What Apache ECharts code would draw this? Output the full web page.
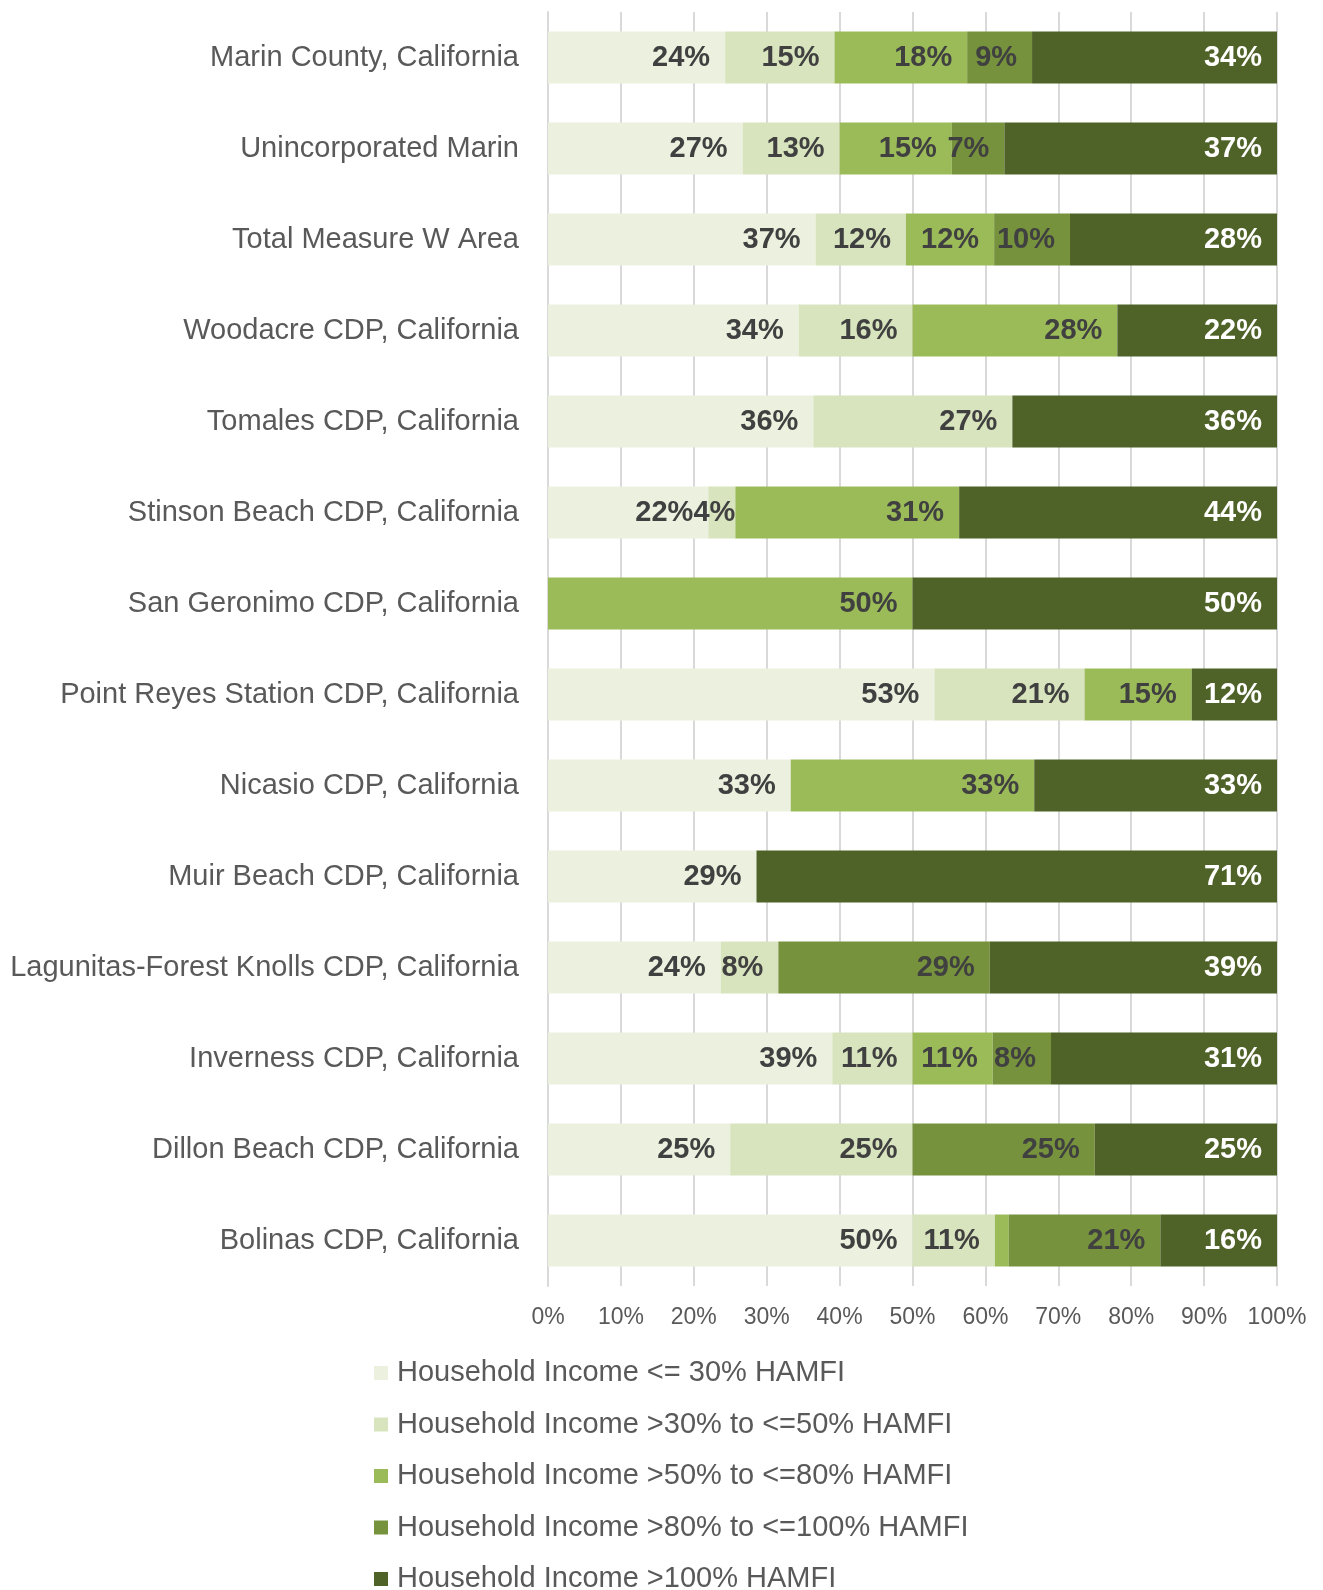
<!DOCTYPE html>
<html>
<head>
<meta charset="utf-8">
<script src="https://cdn.jsdelivr.net/npm/echarts@6/dist/echarts.min.js"></script>
<style>
  html, body { margin: 0; padding: 0; background: #fff; }
  #main { width: 1323px; height: 1590px; }
</style>
</head>
<body>
<div id="main"></div>
<script>
// places, top to bottom
var places = [
    'Marin County, California',
    'Unincorporated Marin',
    'Total Measure W Area',
    'Woodacre CDP, California',
    'Tomales CDP, California',
    'Stinson Beach CDP, California',
    'San Geronimo CDP, California',
    'Point Reyes Station CDP, California',
    'Nicasio CDP, California',
    'Muir Beach CDP, California',
    'Lagunitas-Forest Knolls CDP, California',
    'Inverness CDP, California',
    'Dillon Beach CDP, California',
    'Bolinas CDP, California'
];

var seriesNames = [
    'Household Income <= 30% HAMFI',
    'Household Income >30% to <=50% HAMFI',
    'Household Income >50% to <=80% HAMFI',
    'Household Income >80% to <=100% HAMFI',
    'Household Income >100% HAMFI'
];

// shares in percent, same order as places
var upTo30 =     [24.3, 26.7, 36.7, 34.4, 36.4, 22.0, 0,  53.0, 33.3, 28.6, 23.7, 39.0, 25, 50.0];
var from30to50 = [15.0, 13.3, 12.4, 15.6, 27.3, 3.7,  0,  20.6, 0,    0,    7.9,  11.0, 25, 11.3];
var from50to80 = [18.2, 15.4, 12.1, 28.1, 0,    30.7, 50, 14.7, 33.4, 0,    0,    11.0, 0,  1.9];
var from80to100 = [8.9, 7.2,  10.4, 0,    0,    0,    0,  0,    0,    0,    29.0, 8.0,  25, 20.8];
var over100 =    [33.6, 37.4, 28.4, 21.9, 36.3, 43.6, 50, 11.7, 33.3, 71.4, 39.4, 31.0, 25, 16.0];

var xTicks = [0, 10, 20, 30, 40, 50, 60, 70, 80, 90, 100];

var colors = ['#ebf1de', '#d7e4bd', '#9bbb59', '#76923c', '#4f6228'];
var font = "'Liberation Sans', Arial, sans-serif";

var myChart = echarts.init(document.getElementById('main'));

function makeSeries(idx, values) {
    // very narrow segments get their label pushed flush to the segment end
    var data = values.map(function (v) {
        if (v > 0 && v < 5) {
            return { value: v, label: { distance: 0 } };
        }
        return v;
    });
    return {
        name: seriesNames[idx],
        type: 'bar',
        stack: 'total',
        barWidth: 52,
        data: data,
        itemStyle: { color: colors[idx] },
        label: {
            show: true,
            position: 'insideRight',
            distance: 15,
            fontFamily: font,
            fontSize: 29,
            fontWeight: 'bold',
            color: idx === 4 ? '#ffffff' : '#404040',
            formatter: function (p) {
                return p.value < 3 ? '' : Math.round(p.value) + '%';
            }
        }
    };
}

var option = {
    animation: false,
    backgroundColor: '#ffffff',
    grid: {
        left: 548,
        right: 46,
        top: 12,
        bottom: 304,
        containLabel: false
    },
    legend: {
        orient: 'vertical',
        left: 369,
        top: 1353,
        height: 280,
        itemWidth: 14,
        itemHeight: 14,
        itemGap: 21.5,
        icon: 'rect',
        data: seriesNames,
        textStyle: {
            fontFamily: font,
            fontSize: 29,
            lineHeight: 30,
            color: '#595959',
            padding: [0, 0, 0, 4]
        }
    },
    xAxis: {
        type: 'value',
        min: 0,
        max: 100,
        interval: 10,
        axisLine: { show: false },
        axisTick: { show: false },
        splitLine: { lineStyle: { color: '#d9d9d9', width: 2 } },
        axisLabel: {
            margin: 20,
            fontFamily: font,
            fontSize: 23,
            color: '#595959',
            formatter: function (v) {
                return xTicks.indexOf(v) >= 0 ? v + '%' : '';
            }
        }
    },
    yAxis: {
        type: 'category',
        inverse: true,
        data: places,
        axisLine: { show: true, lineStyle: { color: '#d9d9d9', width: 2 } },
        axisTick: { show: false },
        axisLabel: {
            margin: 29,
            fontFamily: font,
            fontSize: 29,
            color: '#595959'
        }
    },
    series: [
        makeSeries(0, upTo30),
        makeSeries(1, from30to50),
        makeSeries(2, from50to80),
        makeSeries(3, from80to100),
        makeSeries(4, over100)
    ]
};

myChart.setOption(option);
</script>
</body>
</html>
